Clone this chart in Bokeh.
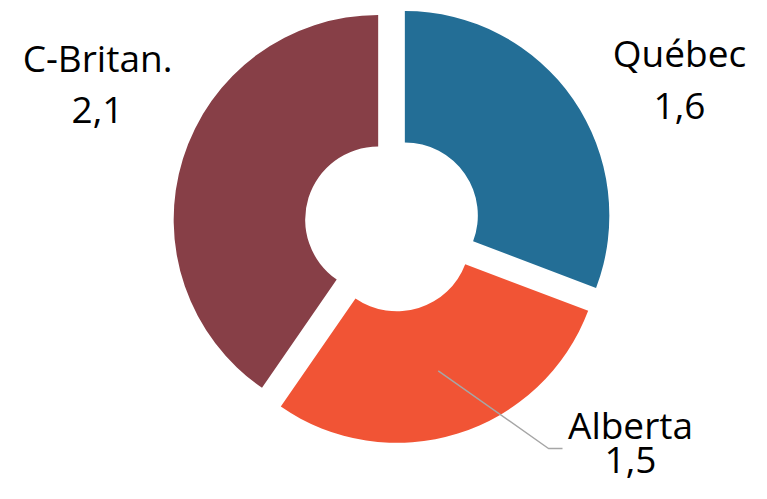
import math
from bokeh.plotting import figure
from bokeh.models import Range1d
from bokeh.embed import file_html
from bokeh.resources import INLINE
from bokeh.core.properties import value

# ---- data ----
regions = ["Québec", "Alberta", "C-Britan."]
amounts = [1.6, 1.5, 2.1]
colors = ["#236E96", "#F15435", "#873F47"]

# ---- layout (picture pixel coordinates, top-left origin) ----
W, H = 751, 483
def to_data(px, py):
    return px, H - py

CENTER = (392, 223.5)
R_IN, R_OUT, EXPLODE = 73, 204.5, 15
# label anchor: (center x, baseline of name, baseline of value)
LABEL_POS = {"Québec": (679, 67, 120), "Alberta": (630, 439, 474), "C-Britan.": (97, 72, 124)}
LEADER_END = {"Alberta": [(548, 448), (562, 448)]}
BASELINE_FIX = -15   # renderer places alphabetic baseline lower than requested
FONT = "Open Sans"
FONT_SIZE = "37px"

p = figure(width=W, height=H, x_range=Range1d(0, W), y_range=Range1d(0, H),
           output_backend="svg", toolbar_location=None, min_border=0)
p.axis.visible = False
p.grid.visible = False
p.outline_line_color = None
p.background_fill_color = "white"

cx, cy = to_data(*CENTER)
total = sum(amounts)
xs, ys, starts, ends, mids = [], [], [], [], []
acc = 0.0
for v in amounts:
    t1 = acc / total * 2 * math.pi
    acc += v
    t2 = acc / total * 2 * math.pi
    tm = (t1 + t2) / 2
    xs.append(cx + EXPLODE * math.sin(tm))
    ys.append(cy + EXPLODE * math.cos(tm))
    starts.append(math.pi / 2 - t2)
    ends.append(math.pi / 2 - t1)
    mids.append(tm)

p.annular_wedge(x=xs, y=ys, inner_radius=R_IN, outer_radius=R_OUT,
                start_angle=starts, end_angle=ends, fill_color=colors, line_color=None)

# leader lines
for i, name in enumerate(regions):
    if name in LEADER_END:
        rm = (R_IN + R_OUT) / 2
        lx = [xs[i] + rm * math.sin(mids[i])]
        ly = [ys[i] + rm * math.cos(mids[i])]
        for (px, py) in LEADER_END[name]:
            dx, dy = to_data(px, py)
            lx.append(dx)
            ly.append(dy)
        p.line(lx, ly, line_color="#A6A6A6", line_width=1.5)

# labels
tx, ty, tt = [], [], []
for name, v in zip(regions, amounts):
    px, b1, b2 = LABEL_POS[name]
    x1, y1 = to_data(px, b1 + BASELINE_FIX)
    x2, y2 = to_data(px, b2 + BASELINE_FIX)
    tx += [x1, x2]
    ty += [y1, y2]
    tt += [name, f"{v:.1f}".replace(".", ",")]

p.text(x=tx, y=ty, text=tt, text_font=value(FONT), text_font_size=FONT_SIZE,
       text_align="center", text_baseline="alphabetic", text_color="black")

open("out.html", "w").write(file_html(p, INLINE))
